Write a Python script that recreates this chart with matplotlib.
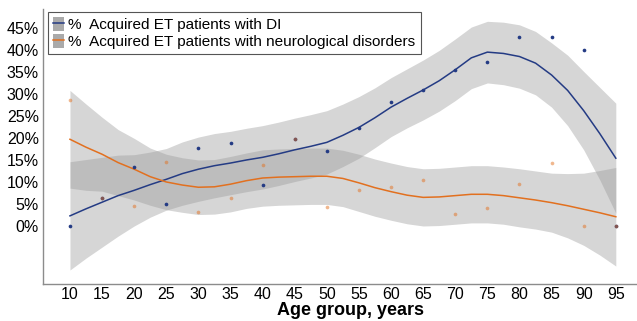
import matplotlib.pyplot as plt
from matplotlib.patches import Patch
from matplotlib.lines import Line2D

plt.rcParams["font.family"] = ["Liberation Sans", "DejaVu Sans"]

# Faixas etárias e valores observados (%)
idades = [10, 15, 20, 25, 30, 35, 40, 45, 50, 55, 60, 65, 70, 75, 80, 85, 90, 95]
pct_di = [0, 6.3, 13.3, 4.9, 17.8, 18.9, 9.3, 19.7, 17.1, 22.3, 28.2, 30.8, 35.5, 37.3, 42.9, 42.9, 40.0, 0]
pct_neuro = [28.7, 6.3, 4.6, 14.5, 3.1, 6.4, 13.8, 19.7, 4.4, 8.2, 8.9, 10.4, 2.8, 4.0, 9.6, 14.4, 0, 0]

# Curvas suavizadas (loess), a cada 2,5 anos
idades_curva = [10, 12.5, 15, 17.5, 20, 22.5, 25, 27.5, 30, 32.5, 35, 37.5, 40, 42.5, 45, 47.5,
                50, 52.5, 55, 57.5, 60, 62.5, 65, 67.5, 70, 72.5, 75, 77.5, 80, 82.5, 85, 87.5,
                90, 92.5, 95]
curva_di = [2.3, 3.9, 5.4, 6.9, 8.1, 9.4, 10.6, 11.9, 12.9, 13.7, 14.3, 15.0, 15.6, 16.4, 17.3, 18.1,
            19.0, 20.6, 22.4, 24.6, 27.0, 29.0, 30.9, 33.0, 35.5, 38.2, 39.5, 39.2, 38.5, 37.0, 34.3, 30.8,
            26.2, 21.0, 15.4]
ic_di = [12.3, 11.2, 10.2, 9.2, 8.1, 7.4, 7.0, 7.2, 7.3, 7.3, 7.2, 7.2, 7.2, 7.2, 7.2, 7.2,
         7.2, 7.1, 7.0, 6.8, 6.7, 6.7, 6.8, 6.9, 7.0, 7.0, 7.0, 7.1, 7.2, 7.2, 7.3, 8.0,
         8.9, 10.5, 12.5]
curva_neuro = [19.7, 17.9, 16.3, 14.4, 12.9, 11.2, 10.0, 9.3, 8.8, 8.9, 9.5, 10.3, 10.9, 11.1, 11.2, 11.3,
               11.3, 10.8, 9.8, 8.7, 7.8, 7.0, 6.5, 6.6, 6.9, 7.2, 7.2, 6.9, 6.4, 5.9, 5.3, 4.6,
               3.8, 3.0, 2.1]
ic_neuro = [11.1, 9.8, 8.4, 7.5, 7.0, 6.5, 6.3, 6.2, 6.2, 6.2, 6.3, 6.3, 6.4, 6.4, 6.4, 6.4,
            6.4, 6.4, 6.5, 6.5, 6.5, 6.5, 6.5, 6.5, 6.5, 6.5, 6.5, 6.5, 6.6, 6.6, 6.7, 7.3,
            8.2, 9.6, 11.2]

cor_di = "#243b84"
cor_neuro = "#e2701f"
cinza = "#999999"

fig = plt.figure(figsize=(6.37, 3.21), dpi=100)
ax = fig.add_axes([0.0675, 0.115, 0.9325, 0.857])

# Faixas de confiança
inf_di = [c - e for c, e in zip(curva_di, ic_di)]
sup_di = [c + e for c, e in zip(curva_di, ic_di)]
inf_neuro = [c - e for c, e in zip(curva_neuro, ic_neuro)]
sup_neuro = [c + e for c, e in zip(curva_neuro, ic_neuro)]
ax.fill_between(idades_curva, inf_di, sup_di, color=cinza, alpha=0.4, linewidth=0)
ax.fill_between(idades_curva, inf_neuro, sup_neuro, color=cinza, alpha=0.4, linewidth=0)

# Curvas
ax.plot(idades_curva, curva_di, color=cor_di, linewidth=1.1)
ax.plot(idades_curva, curva_neuro, color=cor_neuro, linewidth=1.1)

# Pontos
ax.scatter(idades, pct_di, s=7, color=cor_di, zorder=3, linewidths=0)
ax.scatter(idades, pct_neuro, s=7, color=cor_neuro, alpha=0.5, zorder=4, linewidths=0)

# Eixos
ax.set_xlim(5.8, 98.3)
ax.set_ylim(-13.2, 49.3)
ax.set_xticks(idades)
ax.set_yticks(range(0, 50, 5))
ax.set_yticklabels([f"{v}%" for v in range(0, 50, 5)])
ax.tick_params(axis="both", length=0, labelsize=11.5, colors="black")
ax.tick_params(axis="x", pad=2)
ax.tick_params(axis="y", pad=3)
ax.set_xlabel("Age group, years", fontsize=13, fontweight="bold")
ax.xaxis.set_label_coords(0.517, -0.065)
for lado in ["top", "right"]:
    ax.spines[lado].set_visible(False)
for lado in ["left", "bottom"]:
    ax.spines[lado].set_color("#8c8c8c")
    ax.spines[lado].set_linewidth(1.0)

# Legenda no estilo ggplot (quadrado cinza com a linha)
chave_di = (Patch(facecolor="#aaaaaa", edgecolor="none"), Line2D([], [], color=cor_di, linewidth=1.1))
chave_neuro = (Patch(facecolor="#aaaaaa", edgecolor="none"), Line2D([], [], color=cor_neuro, linewidth=1.1))
leg = ax.legend([chave_di, chave_neuro],
                ["%  Acquired ET patients with DI", "%  Acquired ET patients with neurological disorders"],
                loc="upper left", bbox_to_anchor=(0.008, 0.99), borderaxespad=0, fontsize=11,
                handlelength=0.7, handleheight=1.0, handletextpad=0.3, labelspacing=0.12,
                borderpad=0.35, fancybox=False, framealpha=1)
leg.get_frame().set_edgecolor("#555555")
leg.get_frame().set_linewidth(0.8)

plt.savefig("out.png", dpi=100)
